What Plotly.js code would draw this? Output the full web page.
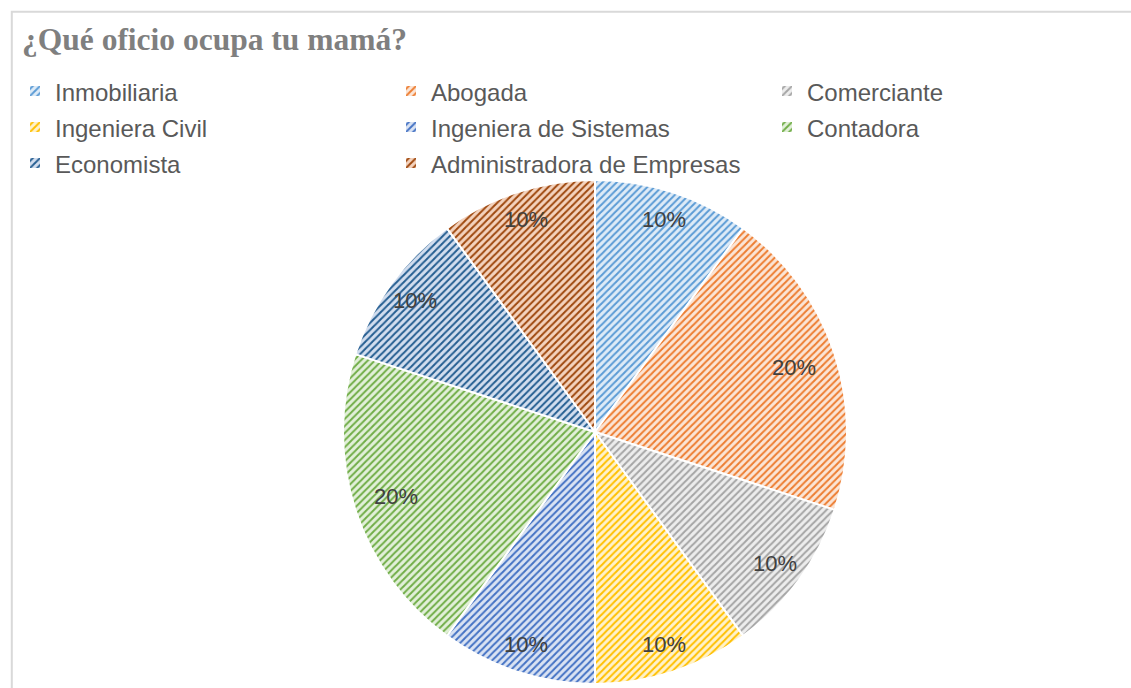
<!DOCTYPE html>
<html>
<head>
<meta charset="utf-8">
<script src="https://cdn.plot.ly/plotly-3.0.1.min.js"></script>
<style>html,body{margin:0;padding:0;background:#fff;overflow:hidden;}#chart{width:1131px;height:688px;}</style>
</head>
<body>
<div id="chart"></div>
<script>
const categories = ["Inmobiliaria", "Abogada", "Comerciante", "Ingeniera Civil", "Ingeniera de Sistemas", "Contadora", "Economista", "Administradora de Empresas"];
const values = [10, 20, 10, 10, 10, 20, 10, 10];
const fgColors = ["#5B9BD5", "#ED7D31", "#A5A5A5", "#FFC000", "#4472C4", "#70AD47", "#255E91", "#9E480E"];
const bgColors = ["#DEEBF7", "#FBE5D6", "#EDEDED", "#FFF2CC", "#DAE3F3", "#E2F0D9", "#D3DEEF", "#F4D3BE"];

const W = 1131, H = 688;
const cx = 595, cy = 432, R = 252;

const total = values.reduce((a, b) => a + b, 0);
const annotations = [];
let cum = 0;
values.forEach((v, i) => {
  const mid = (cum + v / 2) / total * 2 * Math.PI;
  cum += v;
  const frac = v / total >= 0.2 ? 0.83 : 0.885;
  const px = cx + R * frac * Math.sin(mid);
  const py = cy - R * frac * Math.cos(mid);
  annotations.push({
    x: px / W, y: 1 - py / H, xref: 'paper', yref: 'paper',
    text: Math.round(v / total * 100) + '%', showarrow: false,
    xanchor: 'center', yanchor: 'middle',
    font: {family: 'Liberation Sans, Arial, sans-serif', size: 22, color: '#404040'}
  });
});

const legendLabels = categories.map(c => '<span style="font-size:24px">' + c + '</span>');

const trace = {
  type: 'pie',
  labels: legendLabels,
  values: values,
  sort: false,
  direction: 'clockwise',
  rotation: 0,
  textinfo: 'none',
  hoverinfo: 'label+percent',
  domain: {x: [(cx - R) / W, (cx + R) / W], y: [1 - (cy + R) / H, 1 - (cy - R) / H]},
  marker: {
    colors: fgColors,
    line: {color: '#FFFFFF', width: 2},
    pattern: {shape: '/', fgcolor: fgColors, bgcolor: bgColors, size: 5, solidity: 0.4, fillmode: 'replace'}
  }
};

const layout = {
  width: W, height: H,
  margin: {l: 0, r: 0, t: 0, b: 0, autoexpand: false},
  paper_bgcolor: '#FFFFFF',
  title: {
    text: '<b>¿Qué oficio ocupa tu mamá?</b>',
    font: {family: 'Liberation Serif, Times New Roman, serif', size: 31.5, color: '#7F7F7F'},
    x: 22 / W, xanchor: 'left', xref: 'paper',
    y: 1 - 39 / H, yanchor: 'middle', yref: 'container'
  },
  showlegend: true,
  legend: {
    orientation: 'h',
    x: 15 / W, xanchor: 'left',
    y: 1 - 68 / H, yanchor: 'top',
    entrywidth: 331, entrywidthmode: 'pixels',
    font: {family: 'Liberation Sans, Arial, sans-serif', size: 25.4, color: '#595959'},
    traceorder: 'normal',
    bgcolor: 'rgba(0,0,0,0)'
  },
  shapes: [{
    type: 'rect', xref: 'paper', yref: 'paper',
    x0: 11.8 / W, x1: 1.05, y0: -0.05, y1: 1 - 11.8 / H,
    line: {color: '#D9D9D9', width: 2}, fillcolor: 'rgba(0,0,0,0)', layer: 'below'
  }],
  annotations: annotations
};

Plotly.newPlot('chart', [trace], layout, {displayModeBar: false, staticPlot: true});
</script>
</body>
</html>
